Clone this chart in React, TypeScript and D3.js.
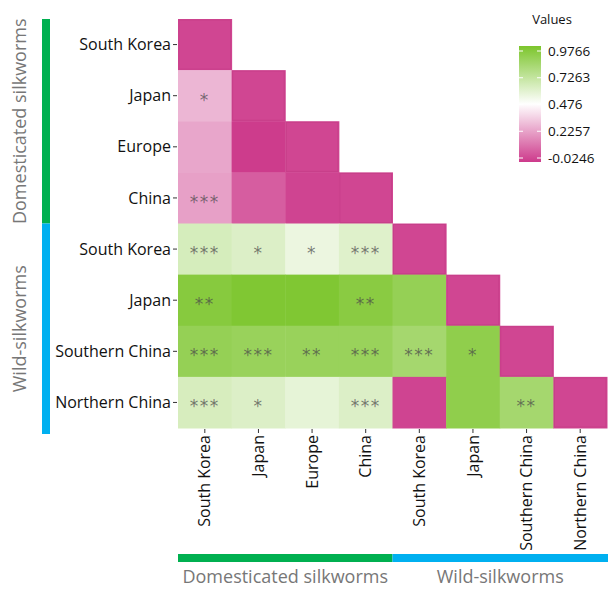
import React from "react";
import * as d3 from "d3";

const rowLabels = ["South Korea", "Japan", "Europe", "China", "South Korea", "Japan", "Southern China", "Northern China"];
const colLabels = ["South Korea", "Japan", "Europe", "China", "South Korea", "Japan", "Southern China", "Northern China"];

// lower-triangle values (row i has i+1 values)
const values: number[][] = [
  [0.005],
  [0.29, 0.005],
  [0.25, -0.02, 0.005],
  [0.235, 0.065, 0.0, 0.005],
  [0.635, 0.61, 0.55, 0.6, 0.005],
  [0.935, 0.96, 0.96, 0.925, 0.88, 0.005],
  [0.88, 0.865, 0.865, 0.865, 0.82, 0.9, 0.005],
  [0.63, 0.61, 0.57, 0.61, 0.0, 0.9, 0.82, 0.005],
];

const stars: string[][] = [
  [""],
  ["*", ""],
  ["", "", ""],
  ["***", "", "", ""],
  ["***", "*", "*", "***", ""],
  ["**", "", "", "**", "", ""],
  ["***", "***", "**", "***", "***", "*", ""],
  ["***", "*", "", "***", "", "", "**", ""],
];

const legendTicks = [0.9766, 0.7263, 0.476, 0.2257, -0.0246];
const legendTickLabels = ["0.9766", "0.7263", "0.476", "0.2257", "-0.0246"];

const groups = [
  { name: "Domesticated silkworms", from: 0, to: 3, color: "#00b050" },
  { name: "Wild-silkworms", from: 4, to: 7, color: "#00b0f0" },
];

const W = 608;
const H = 603;

export default function App() {
  const idx = d3.range(8).map(String);
  const x = d3.scaleBand<string>().domain(idx).range([178, 607]);
  const y = d3.scaleBand<string>().domain(idx).range([19, 428]);
  const color = d3
    .scaleLinear<string>()
    .domain([-0.0246, 0.476, 0.9766])
    .range(["#cd3a8b", "#ffffff", "#7cc52c"])
    .interpolate(d3.interpolateRgb);
  const ly = d3.scaleLinear().domain([-0.0246, 0.9766]).range([158, 51]);

  const font = "'Open Sans', sans-serif";

  const cells: JSX.Element[] = [];
  values.forEach((row, i) => {
    row.forEach((v, j) => {
      const xi = x(String(j))!;
      const yi = y(String(i))!;
      const diag = i === j;
      cells.push(
        <rect
          key={`c${i}-${j}`}
          x={xi}
          y={yi}
          width={x.bandwidth() + 0.5}
          height={y.bandwidth() + 0.5}
          fill={color(v)}
        />
      );
      if (diag) {
        cells.push(
          <rect
            key={`d${i}-${j}`}
            x={xi + 1}
            y={yi + 1}
            width={x.bandwidth() - 2}
            height={y.bandwidth() - 2}
            fill="none"
            stroke="#b8337c"
            strokeOpacity={0.35}
          />
        );
      }
      const s = stars[i][j];
      if (s) {
        cells.push(
          <text
            key={`s${i}-${j}`}
            x={xi + x.bandwidth() / 2}
            y={yi + y.bandwidth() / 2 + 10}
            textAnchor="middle"
            fontFamily="'DejaVu Sans', sans-serif"
            fontSize={17}
            letterSpacing={1.5}
            fill="#4a4a4a"
            fillOpacity={0.72}
          >
            {s}
          </text>
        );
      }
    });
  });

  const gradStops = d3.range(0, 1.0001, 0.05).map((t) => {
    const v = -0.0246 + t * (0.9766 + 0.0246);
    return <stop key={t} offset={`${t * 100}%`} stopColor={color(v)} />;
  });

  return (
    <svg width={W} height={H} style={{ position: "absolute", left: 0, top: 0 }}>
      <rect width={W} height={H} fill="#ffffff" />
      <defs>
        <linearGradient id="lg" x1="0" y1="1" x2="0" y2="0">
          {gradStops}
        </linearGradient>
      </defs>
      {cells}

      {/* y axis */}
      {rowLabels.map((l, i) => {
        const cy = y(String(i))! + y.bandwidth() / 2;
        return (
          <g key={`yl${i}`}>
            <line x1={173} x2={177} y1={cy} y2={cy} stroke="#333" />
            <text x={171} y={cy} dy="0.35em" textAnchor="end" fontFamily={font} fontSize={16} fill="#111">
              {l}
            </text>
          </g>
        );
      })}

      {/* x axis */}
      {colLabels.map((l, j) => {
        const cx = x(String(j))! + x.bandwidth() / 2;
        return (
          <g key={`xl${j}`}>
            <line x1={cx} x2={cx} y1={429} y2={433} stroke="#333" />
            <text
              transform={`translate(${cx},${435}) rotate(-90)`}
              dy="0.35em"
              textAnchor="end"
              fontFamily={font}
              fontSize={16}
              fill="#111"
            >
              {l}
            </text>
          </g>
        );
      })}

      {/* left group bars */}
      {groups.map((g) => {
        const y0 = g.from === 0 ? 19 : y(String(g.from))!;
        const y1 = g.to === 7 ? 434 : y(String(g.to))! + y.bandwidth();
        return (
          <g key={`lg${g.name}`}>
            <rect x={42} y={y0} width={8} height={y1 - y0} fill={g.color} />
            <text
              transform={`translate(${20},${(y0 + y1) / 2}) rotate(-90)`}
              dy="0.35em"
              textAnchor="middle"
              fontFamily={font}
              fontSize={18}
              fill="#777"
            >
              {g.name}
            </text>
          </g>
        );
      })}

      {/* bottom group bars */}
      {groups.map((g) => {
        const x0 = x(String(g.from))!;
        const x1 = g.to === 7 ? 608 : x(String(g.to))! + x.bandwidth();
        return (
          <g key={`bg${g.name}`}>
            <rect x={x0} y={554} width={x1 - x0} height={8} fill={g.color} />
            <text x={(x0 + x1) / 2} y={583} textAnchor="middle" fontFamily={font} fontSize={18} fill="#777">
              {g.name}
            </text>
          </g>
        );
      })}

      {/* legend */}
      <text x={552} y={24} textAnchor="middle" fontFamily={font} fontSize={13} fill="#111">
        Values
      </text>
      <rect x={519} y={46} width={22} height={116} fill="url(#lg)" />
      {legendTicks.map((t, k) => (
        <g key={`lt${k}`}>
          <line x1={519} x2={523} y1={ly(t)} y2={ly(t)} stroke="#fff" strokeWidth={1} />
          <line x1={537} x2={541} y1={ly(t)} y2={ly(t)} stroke="#fff" strokeWidth={1} />
          <text x={548} y={ly(t)} dy="0.35em" fontFamily={font} fontSize={13.5} fill="#111">
            {legendTickLabels[k]}
          </text>
        </g>
      ))}
    </svg>
  );
}
